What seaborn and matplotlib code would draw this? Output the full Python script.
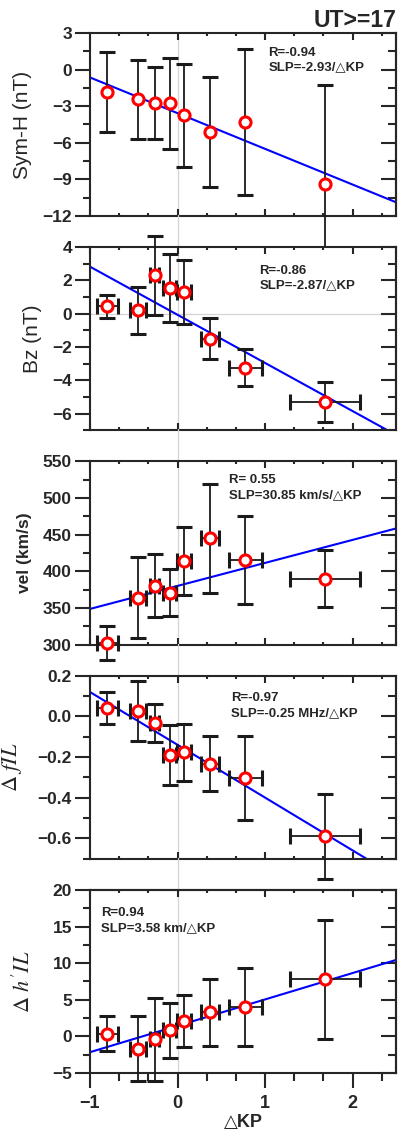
import numpy as np
import pandas as pd
import matplotlib
matplotlib.use("Agg")
import matplotlib.pyplot as plt
from matplotlib.ticker import MultipleLocator
import seaborn as sns

# data
dkp = [-0.80, -0.45, -0.26, -0.09, 0.075, 0.37, 0.775, 1.68]
dkp_err = [0.12, 0.09, 0.05, 0.07, 0.08, 0.10, 0.19, 0.40]

symh = [-1.85, -2.45, -2.72, -2.78, -3.76, -5.12, -4.30, -9.40]
symh_err = [3.3, 3.2, 2.95, 3.7, 4.2, 4.5, 6.0, 8.1]

bz = [0.44, 0.20, 2.30, 1.54, 1.30, -1.50, -3.24, -5.30]
bz_err = [0.68, 1.43, 2.38, 2.03, 1.90, 1.22, 1.12, 1.18]

vel = [302, 364, 380, 371, 414, 445, 415, 390]
vel_err = [23.5, 55.5, 43, 32, 46.5, 74, 60, 39]

dfil = [0.041, 0.026, -0.031, -0.189, -0.176, -0.234, -0.303, -0.590]
dfil_err = [0.077, 0.146, 0.093, 0.147, 0.140, 0.135, 0.204, 0.210]

dhil = [0.36, -1.68, -0.41, 0.82, 2.10, 3.30, 4.00, 7.77]
dhil_err = [2.36, 4.40, 5.70, 3.75, 3.50, 4.60, 5.30, 8.10]

fit_text = ["R=-0.94\nSLP=-2.93/\u25b3KP",
            "R=-0.86\nSLP=-2.87/\u25b3KP",
            "R= 0.55\nSLP=30.85 km/s/\u25b3KP",
            "R=-0.97\nSLP=-0.25 MHz/\u25b3KP",
            "R=0.94\nSLP=3.58 km/\u25b3KP"]

sns.set_style("ticks")
plt.rcParams['font.family'] = ['Liberation Sans', 'DejaVu Sans']
plt.rcParams['mathtext.fontset'] = 'stix'
plt.rcParams['axes.linewidth'] = 1.5

panels = [
    (symh, symh_err, False, "Sym-H (nT)", "normal", 15, (-12, 3), 3, 1.5, -0.19, (0.583, 0.925)),
    (bz, bz_err, True, "Bz (nT)", "normal", 15, (-7, 4), 2, 1, -0.155, (0.553, 0.905)),
    (vel, vel_err, True, "vel (km/s)", "bold", 12.5, (300, 550), 50, 25, -0.19, (0.455, 0.93)),
    (dfil, dfil_err, True, r"$\Delta\ fIL$", "normal", 16, (-0.7, 0.2), 0.2, 0.1, -0.215, (0.460, 0.91)),
    (dhil, dhil_err, True, r"$\Delta\ h'IL$", "normal", 16, (-5, 20), 5, 2.5, -0.18, (0.037, 0.905)),
]

fig, axes = plt.subplots(5, 1, figsize=(3.98, 11.35), dpi=100)
fig.subplots_adjust(left=0.226, right=0.996, top=0.971, bottom=0.0546, hspace=0.17)

for i, (ax, p) in enumerate(zip(axes, panels)):
    y, yerr, use_xerr, label, weight, lsize, ylim, major, minor, labx, txtpos = p
    df = pd.DataFrame({"dkp": dkp, "val": y})
    ax.set_xlim(-1, 2.5)
    ax.set_ylim(*ylim)

    # light reference lines
    ext = 0.0 if i == 0 else 0.175
    ax.axvline(0, ymin=0, ymax=1 + ext, color="#d4d4d4", lw=0.9, clip_on=False, zorder=0)
    if i == 1:
        ax.axhline(0, color="#d4d4d4", lw=0.9, zorder=0)

    sns.regplot(data=df, x="dkp", y="val", ax=ax, scatter=False, ci=None,
                truncate=False, color="#0000ff", line_kws={"linewidth": 1.5, "zorder": 2})
    ax.errorbar(dkp, y, yerr=yerr, xerr=dkp_err if use_xerr else None,
                fmt="o", ms=8, mfc="white", mec="#ff0000", mew=2.2,
                ecolor="#1a1a1a", elinewidth=1.3, capsize=6, capthick=1.3,
                clip_on=False, zorder=3)
    ax.set_xlim(-1, 2.5)
    ax.set_ylim(*ylim)

    ax.yaxis.set_major_locator(MultipleLocator(major))
    ax.yaxis.set_minor_locator(MultipleLocator(minor))
    ax.xaxis.set_major_locator(MultipleLocator(1))
    ax.xaxis.set_minor_locator(MultipleLocator(1 / 3))
    ax.tick_params(axis="y", which="major", direction="out", length=11, width=1.5,
                   labelsize=12.5, pad=2)
    ax.tick_params(axis="y", which="minor", direction="out", length=5, width=1.5)
    for t in ax.get_yticklabels():
        t.set_fontweight("bold")

    right = ax.secondary_yaxis("right")
    right.yaxis.set_major_locator(MultipleLocator(major))
    right.yaxis.set_minor_locator(MultipleLocator(minor))
    right.tick_params(which="major", direction="in", length=11, width=1.5, labelright=False)
    right.tick_params(which="minor", direction="in", length=5.5, width=1.5)

    if i < 4:
        ax.tick_params(axis="x", which="major", direction="in", length=5, width=1.5,
                       top=True, bottom=True, labelbottom=False)
        ax.tick_params(axis="x", which="minor", direction="in", length=2.5, width=1.5,
                       top=True, bottom=True)
        ax.set_xlabel("")
    else:
        ax.tick_params(axis="x", which="major", direction="out", length=11, width=1.5,
                       labelsize=13, pad=5)
        ax.tick_params(axis="x", which="minor", direction="out", length=5.5, width=1.5)
        for t in ax.get_xticklabels():
            t.set_fontweight("bold")
        top = ax.secondary_xaxis("top")
        top.xaxis.set_major_locator(MultipleLocator(1))
        top.xaxis.set_minor_locator(MultipleLocator(1 / 3))
        top.tick_params(which="major", direction="in", length=5, width=1.5, labeltop=False)
        top.tick_params(which="minor", direction="in", length=2.5, width=1.5)
        ax.set_xlabel("\u25b3KP", fontsize=13, fontweight="bold", labelpad=1,
                      family=["Liberation Sans", "DejaVu Sans"])

    ax.set_ylabel(label, fontsize=lsize, fontweight=weight)
    ax.yaxis.set_label_coords(labx, 0.5)
    ax.text(txtpos[0], txtpos[1], fit_text[i], transform=ax.transAxes,
            fontsize=9.5, fontweight="bold", va="top", ha="left", linespacing=1.3,
            family=["Liberation Sans", "DejaVu Sans"])

fig.text(0.995, 0.976, "UT>=17", ha="right", va="baseline", fontsize=16.5, fontweight="bold")

plt.savefig("out.png", dpi=100)
